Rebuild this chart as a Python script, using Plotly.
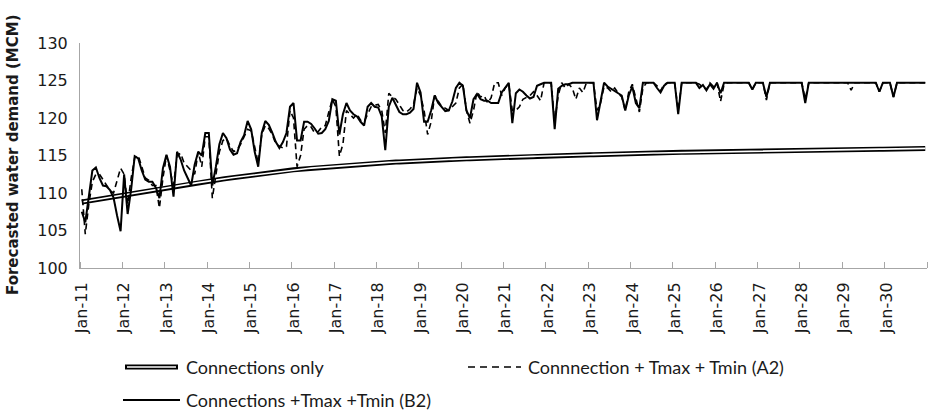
import plotly.graph_objects as go

# ---------------- data ----------------
years = list(range(2011, 2031))
month_names = ["Jan", "Feb", "Mar", "Apr", "May", "Jun",
               "Jul", "Aug", "Sep", "Oct", "Nov", "Dec"]
categories = [f"{m}-{str(y)[2:]}" for y in years for m in month_names]
tick_labels = [f"Jan-{str(y)[2:]}" for y in years]

conn_only = [
    108.80, 108.88, 108.97, 109.05, 109.13, 109.22, 109.30, 109.38, 109.47, 109.55, 109.63, 109.72,
    109.80, 109.88, 109.95, 110.03, 110.10, 110.18, 110.25, 110.33, 110.40, 110.48, 110.55, 110.63,
    110.70, 110.78, 110.85, 110.93, 111.00, 111.08, 111.15, 111.23, 111.30, 111.38, 111.45, 111.53,
    111.60, 111.67, 111.73, 111.80, 111.87, 111.93, 112.00, 112.07, 112.13, 112.20, 112.27, 112.33,
    112.40, 112.46, 112.52, 112.58, 112.64, 112.70, 112.75, 112.81, 112.87, 112.93, 112.99, 113.05,
    113.10, 113.14, 113.18, 113.23, 113.27, 113.31, 113.35, 113.39, 113.43, 113.48, 113.52, 113.56,
    113.60, 113.63, 113.67, 113.70, 113.73, 113.77, 113.80, 113.83, 113.87, 113.90, 113.93, 113.97,
    114.00, 114.03, 114.05, 114.08, 114.10, 114.13, 114.15, 114.18, 114.20, 114.23, 114.25, 114.28,
    114.30, 114.32, 114.34, 114.36, 114.38, 114.40, 114.43, 114.45, 114.47, 114.49, 114.51, 114.53,
    114.55, 114.57, 114.58, 114.60, 114.62, 114.63, 114.65, 114.67, 114.68, 114.70, 114.72, 114.73,
    114.75, 114.77, 114.78, 114.80, 114.82, 114.83, 114.85, 114.87, 114.88, 114.90, 114.92, 114.93,
    114.95, 114.96, 114.98, 114.99, 115.00, 115.01, 115.03, 115.04, 115.05, 115.06, 115.08, 115.09,
    115.10, 115.11, 115.13, 115.14, 115.15, 115.16, 115.18, 115.19, 115.20, 115.21, 115.23, 115.24,
    115.25, 115.26, 115.28, 115.29, 115.30, 115.31, 115.33, 115.34, 115.35, 115.36, 115.38, 115.39,
    115.40, 115.41, 115.42, 115.42, 115.43, 115.44, 115.45, 115.46, 115.47, 115.48, 115.48, 115.49,
    115.50, 115.51, 115.52, 115.52, 115.53, 115.54, 115.55, 115.56, 115.57, 115.58, 115.58, 115.59,
    115.60, 115.61, 115.62, 115.62, 115.63, 115.64, 115.65, 115.66, 115.67, 115.68, 115.68, 115.69,
    115.70, 115.71, 115.72, 115.72, 115.73, 115.74, 115.75, 115.76, 115.77, 115.78, 115.78, 115.79,
    115.80, 115.80, 115.81, 115.81, 115.82, 115.82, 115.83, 115.83, 115.84, 115.84, 115.85, 115.85,
    115.86, 115.87, 115.88, 115.88, 115.89, 115.90, 115.91, 115.92, 115.93, 115.93, 115.94, 115.95,
]

a2_values = [
    110.5, 104.5, 108.5, 111.5, 112.5, 112.5, 111.8, 111.0, 110.3, 110.0, 111.5, 113.3,
    112.5, 108.5, 112.0, 114.7, 115.0, 113.5, 112.0, 111.7, 111.0, 111.0, 108.0, 112.0,
    115.0, 113.0, 111.0, 115.0, 115.3, 114.0, 113.5, 113.0, 112.5, 115.5, 113.5, 117.5,
    117.5, 109.3, 112.5, 115.5, 117.0, 117.3, 116.3, 115.5, 115.8, 116.5, 117.5, 118.5,
    118.3, 116.0, 114.0, 117.8, 119.0, 118.6, 117.8, 116.5, 116.2, 116.0, 116.2, 121.0,
    120.0, 113.5, 115.0, 118.5, 119.0, 118.8, 118.0, 118.2, 118.8, 119.0, 120.8, 122.5,
    121.5, 114.9, 116.5, 121.0, 120.5, 120.0, 120.5, 119.7, 119.5, 120.5, 121.5, 121.7,
    121.8, 121.0, 118.0, 123.3, 122.8, 122.5, 121.7, 121.0, 120.8, 121.2, 121.8, 124.0,
    123.0, 121.0, 117.8, 119.5, 123.0, 122.3, 121.5, 121.3, 121.0, 121.5, 122.0, 124.0,
    124.5, 121.0, 119.3, 121.0, 123.5, 122.8, 123.0, 122.0, 122.7, 124.7, 124.7, 123.0,
    124.0, 124.5, 121.0, 121.0, 121.5, 122.5, 122.8, 123.0, 123.5, 123.0, 122.3, 124.7,
    124.7, 124.7, 119.5, 123.0, 124.7, 124.0, 124.5, 124.0, 122.5, 124.0, 123.4, 124.7,
    124.7, 124.7, 121.0, 122.0, 124.2, 124.0, 123.5, 124.0, 123.3, 122.8, 121.0, 123.5,
    124.5, 122.5, 120.8, 124.0, 124.7, 124.7, 124.7, 124.3, 123.6, 124.5, 124.7, 124.7,
    124.7, 121.0, 124.7, 124.7, 124.7, 124.7, 124.7, 124.5, 124.2, 123.8, 124.7, 124.2,
    124.7, 122.2, 124.5, 124.7, 124.7, 124.7, 124.7, 124.7, 124.7, 124.7, 123.8, 124.7,
    124.7, 124.7, 122.4, 124.7, 124.7, 124.7, 124.7, 124.7, 124.7, 124.7, 124.7, 124.7,
    124.7, 122.5, 124.7, 124.7, 124.7, 124.7, 124.7, 124.7, 124.7, 124.7, 124.7, 124.7,
    124.7, 124.7, 123.7, 124.7, 124.7, 124.7, 124.7, 124.7, 124.7, 124.7, 123.5, 124.7,
    124.7, 124.7, 122.8, 124.7, 124.7, 124.7, 124.7, 124.7, 124.7, 124.7, 124.7, 124.7,
]

b2_values = [
    107.5, 106.1, 109.5, 113.0, 113.4, 112.0, 111.0, 110.9, 110.4, 109.4, 107.0, 104.9,
    112.5, 107.2, 110.5, 114.9, 114.6, 113.0, 111.8, 111.5, 111.5, 110.7, 109.3, 113.3,
    115.1, 113.5, 109.5, 115.5, 114.5, 113.0, 112.0, 111.0, 113.8, 115.5, 115.0, 118.0,
    118.0, 111.0, 113.5, 116.5, 118.0, 117.3, 115.8, 115.1, 115.3, 116.8, 117.7, 119.6,
    118.5, 115.5, 113.5, 118.0, 119.6, 119.1, 118.0, 116.8, 116.0, 116.8, 118.0, 121.5,
    122.0, 117.0, 117.0, 119.5, 119.5, 119.2, 118.6, 117.9, 118.0, 118.5, 119.6, 122.5,
    122.3, 117.8, 120.5, 122.0, 121.0, 120.5, 120.2, 119.5, 119.0, 121.5, 122.0, 121.5,
    121.4, 120.2, 115.7, 121.5, 122.7, 121.8, 120.8, 120.5, 120.5, 120.7, 121.2, 124.7,
    123.4, 119.5, 119.5, 121.0, 123.0, 122.0, 121.5, 120.9, 121.0, 122.2, 124.0, 124.7,
    124.3, 121.0, 120.0, 122.5, 123.2, 122.5, 122.3, 122.3, 122.0, 122.0, 122.0, 123.4,
    124.0, 124.7, 119.3, 123.3, 123.8, 123.5, 123.0, 122.6, 122.8, 124.3, 124.5, 124.7,
    124.7, 124.7, 118.5, 123.9, 124.3, 124.5, 124.5, 124.7, 124.7, 124.7, 124.7, 124.7,
    124.7, 124.7, 119.7, 122.5, 124.7, 124.2, 123.9, 123.6, 123.4, 123.0, 121.0, 123.0,
    124.2, 122.0, 121.3, 124.7, 124.7, 124.7, 124.7, 124.0, 123.4, 124.3, 124.7, 124.7,
    124.7, 120.5, 124.7, 124.7, 124.7, 124.7, 124.7, 124.0, 124.4, 123.7, 124.5, 123.9,
    124.7, 123.3, 124.7, 124.7, 124.7, 124.7, 124.7, 124.7, 124.7, 124.7, 123.8, 124.7,
    124.7, 124.7, 122.8, 124.7, 124.7, 124.7, 124.7, 124.7, 124.7, 124.7, 124.7, 124.7,
    124.7, 122.0, 124.7, 124.7, 124.7, 124.7, 124.7, 124.7, 124.7, 124.7, 124.7, 124.7,
    124.7, 124.7, 124.7, 124.7, 124.7, 124.7, 124.7, 124.7, 124.7, 124.7, 123.5, 124.7,
    124.7, 124.7, 122.8, 124.7, 124.7, 124.7, 124.7, 124.7, 124.7, 124.7, 124.7, 124.7,
]

series_names = ["Connections only",
                "Connnection + Tmax + Tmin (A2)",
                "Connections +Tmax +Tmin (B2)"]

# ---------------- figure ----------------
x = list(range(len(categories)))
tick_pos = [categories.index(t) for t in tick_labels]
boundaries = [p - 0.5 for p in tick_pos] + [len(categories) - 0.5]

W, H = 929, 415
ML, MR, MT, MB = 80, 2, 43, 147
PW, PH = W - ML - MR, H - MT - MB


def fx(px):
    return (px - ML) / PW


def fy(py):
    return (H - MB - py) / PH


AXIS_GREY = "#A6A6A6"
TXT = "#1a1a1a"

fig = go.Figure()
fig.add_trace(go.Scatter(x=x, y=conn_only, mode="lines", name=series_names[0],
                         line=dict(color="black", width=5), hoverinfo="skip",
                         showlegend=False))
fig.add_trace(go.Scatter(x=x, y=conn_only, mode="lines", name=series_names[0],
                         line=dict(color="white", width=1.6), showlegend=False))
fig.add_trace(go.Scatter(x=x, y=a2_values, mode="lines", name=series_names[1],
                         line=dict(color="black", width=1.6, dash="6px,4px"),
                         showlegend=False))
fig.add_trace(go.Scatter(x=x, y=b2_values, mode="lines", name=series_names[2],
                         line=dict(color="black", width=2), showlegend=False))

# manual legend (Excel-like layout)
ROW1, ROW2 = 367, 400
shapes = [
    dict(type="line", xref="paper", yref="paper", x0=fx(125), x1=fx(178),
         y0=fy(ROW1), y1=fy(ROW1), line=dict(color="black", width=5)),
    dict(type="line", xref="paper", yref="paper", x0=fx(127), x1=fx(176),
         y0=fy(ROW1), y1=fy(ROW1), line=dict(color="white", width=1.6)),
    dict(type="line", xref="paper", yref="paper", x0=fx(468), x1=fx(521),
         y0=fy(ROW1), y1=fy(ROW1), line=dict(color="black", width=1.6, dash="7px,5px")),
    dict(type="line", xref="paper", yref="paper", x0=fx(123), x1=fx(180),
         y0=fy(ROW2), y1=fy(ROW2), line=dict(color="black", width=2)),
]
legend_font = dict(family="Lato", size=18, color=TXT)
annotations = [
    dict(text=series_names[0], xref="paper", yref="paper", x=fx(184), y=fy(ROW1),
         xanchor="left", yanchor="middle", showarrow=False, font=legend_font),
    dict(text=series_names[1], xref="paper", yref="paper", x=fx(526), y=fy(ROW1),
         xanchor="left", yanchor="middle", showarrow=False, font=legend_font),
    dict(text=series_names[2], xref="paper", yref="paper", x=fx(184), y=fy(ROW2),
         xanchor="left", yanchor="middle", showarrow=False, font=legend_font),
    dict(text="<b>Forecasted water demand (MCM)</b>", xref="paper", yref="paper",
         x=fx(13), y=fy(155), xanchor="center", yanchor="middle", textangle=-90,
         showarrow=False, font=dict(family="DejaVu Sans", size=15, color=TXT)),
]

fig.update_layout(
    width=W, height=H,
    margin=dict(l=ML, r=MR, t=MT, b=MB),
    paper_bgcolor="white", plot_bgcolor="white",
    showlegend=False,
    shapes=shapes,
    annotations=annotations,
    xaxis=dict(
        range=[-0.5, len(categories) - 0.5],
        tickmode="array", tickvals=tick_pos, ticktext=tick_labels,
        tickangle=-90, ticks="", showgrid=False, zeroline=False,
        showline=True, linecolor=AXIS_GREY, linewidth=1,
        tickfont=dict(family="DejaVu Sans", size=16, color=TXT),
        ticklabelstandoff=7,
        minor=dict(tickmode="array", tickvals=boundaries, ticks="inside",
                   ticklen=6, tickcolor=AXIS_GREY, tickwidth=1, showgrid=False),
    ),
    yaxis=dict(
        range=[100, 130], tickmode="linear", tick0=100, dtick=5,
        ticks="", showgrid=False, zeroline=False,
        showline=True, linecolor=AXIS_GREY, linewidth=1,
        tickfont=dict(family="DejaVu Sans", size=16, color=TXT),
        ticklabelstandoff=8,
    ),
)

fig.write_html("out.html")
